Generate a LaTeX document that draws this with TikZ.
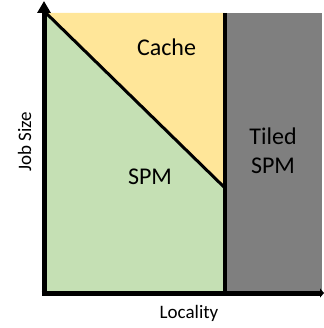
\documentclass[tikz,border=0pt]{standalone}
\usepackage{fontspec}
\setmainfont{Carlito}
\usetikzlibrary{arrows.meta}
\definecolor{spmgreen}{HTML}{C5E0B4}
\definecolor{cacheyellow}{HTML}{FFE699}
\definecolor{tiledgray}{HTML}{7F7F7F}
\tikzset{
  axislbl/.style={font=\fontsize{19}{22}\selectfont, text=black, inner sep=0pt, anchor=base},
  regionlbl/.style={font=\fontsize{24}{29}\selectfont, text=black, inner sep=0pt, anchor=base},
  axis/.style={line width=5pt, -{Triangle[length=12pt,width=13pt]}},
}
\begin{document}
\begin{tikzpicture}[x=1pt,y=-1pt]
\useasboundingbox (0,0) rectangle (323,328);
% regions
\fill[spmgreen] (46,13) -- (225,188) -- (225,293) -- (46,293) -- cycle;
\fill[cacheyellow] (46,13) -- (225,13) -- (225,188) -- cycle;
\fill[tiledgray] (225,13) rectangle (322,293);
% boundaries
\coordinate (dtop) at (46,13);
\coordinate (dbot) at (225,188);
\draw[line width=3pt] (dtop) -- (dbot);
\coordinate (vtop) at (225,13);
\coordinate (vbot) at (225,293);
\draw[line width=4.5pt] (vtop) -- (vbot);
% axes
\coordinate (origin) at (44,295.5);
\coordinate (ytip) at (44,1);
\coordinate (xorigin) at (41.5,293);
\coordinate (xtip) at (324,293);
\draw[axis] (origin) -- (ytip);
\draw[line width=5pt, -{Triangle[length=4pt,width=9pt]}] (xorigin) -- (xtip);
% labels
\node[regionlbl] (cache) at (166.5,55.7) {Cache};
\node[regionlbl] (spm) at (150,185) {SPM};
\node[regionlbl] (tiled) at (273,145) {Tiled};
\node[regionlbl] (tiledspm) at (273,174) {SPM};
\node[axislbl, rotate=90] (jobsize) at (31,142) {Job Size};
\node[axislbl] (locality) at (189,318.3) {Locality};
\end{tikzpicture}
\end{document}
